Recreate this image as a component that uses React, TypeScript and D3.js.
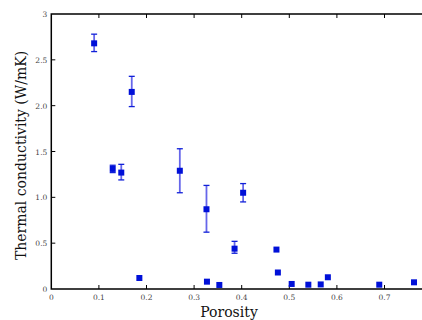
import React, { useRef, useEffect } from 'react';
import * as d3 from 'd3';

// porosity, conductivity, error (0 = no bar)
const porosity = [0.09, 0.169, 0.129, 0.147, 0.27, 0.326, 0.185, 0.327, 0.353, 0.385, 0.403, 0.473, 0.476, 0.505, 0.54, 0.566, 0.581, 0.689, 0.762];
const conductivity = [2.68, 2.15, 1.31, 1.27, 1.29, 0.87, 0.12, 0.08, 0.044, 0.44, 1.05, 0.43, 0.18, 0.055, 0.047, 0.05, 0.128, 0.047, 0.073];
const errLow = [0.09, 0.16, 0.04, 0.08, 0.24, 0.25, 0, 0, 0, 0.05, 0.1, 0, 0, 0, 0, 0, 0, 0, 0];
const errHigh = [0.1, 0.17, 0.04, 0.09, 0.24, 0.26, 0, 0, 0, 0.08, 0.1, 0, 0, 0, 0, 0, 0, 0, 0];

const xTicks = [0, 0.1, 0.2, 0.3, 0.4, 0.5, 0.6, 0.7];
const xTickLabels = ['0', '0.1', '0.2', '0.3', '0.4', '0.5', '0.6', '0.7'];
const yTicks = [0, 0.5, 1, 1.5, 2, 2.5, 3];
const yTickLabels = ['0', '0.5', '1.0', '1.5', '2.0', '2.5', '3'];

const App = () => {
  const svgRef = useRef<SVGSVGElement>(null);

  useEffect(() => {
    const svg = d3.select(svgRef.current);
    svg.selectAll('*').remove();

    const left = 51.3, top = 14, bottom = 289;
    const x = d3.scaleLinear().domain([0, 0.1]).range([left, left + 47.6]);
    const y = d3.scaleLinear().domain([0, 3]).range([bottom, top]);
    const right = 440;
    const font = '"DejaVu Serif", serif';

    // frame
    svg.append('path')
      .attr('d', `M${right},${top}H${left}V${bottom}H${right}`)
      .attr('fill', 'none')
      .attr('stroke', '#000')
      .attr('stroke-width', 1.5);

    const tickLen = 4;
    xTicks.forEach((t) => {
      if (t === 0) return;
      svg.append('line').attr('x1', x(t)).attr('x2', x(t))
        .attr('y1', bottom).attr('y2', bottom - tickLen)
        .attr('stroke', '#000').attr('stroke-width', 1);
      svg.append('line').attr('x1', x(t)).attr('x2', x(t))
        .attr('y1', top).attr('y2', top + tickLen)
        .attr('stroke', '#000').attr('stroke-width', 1);
    });
    xTicks.forEach((t, i) => {
      svg.append('text')
        .attr('x', x(t)).attr('y', bottom + 11)
        .attr('text-anchor', 'middle')
        .style('font-family', font).style('font-size', '7.5px').style('fill', '#444')
        .text(xTickLabels[i]);
    });
    yTicks.forEach((t, i) => {
      if (t !== 0 && t !== 3) {
        svg.append('line').attr('x1', left).attr('x2', left + tickLen)
          .attr('y1', y(t)).attr('y2', y(t))
          .attr('stroke', '#000').attr('stroke-width', 1);
      }
      svg.append('text')
        .attr('x', left - 4).attr('y', y(t) + 3)
        .attr('text-anchor', 'end')
        .style('font-family', font).style('font-size', '7.5px').style('fill', '#444')
        .text(yTickLabels[i]);
    });

    // error bars
    const eb = svg.append('g').attr('stroke', 'rgba(0,0,220,0.6)').attr('stroke-width', 1.8);
    porosity.forEach((p, i) => {
      if (!errLow[i] && !errHigh[i]) return;
      const cx = x(p);
      const y1 = y(conductivity[i] + errHigh[i]);
      const y2 = y(conductivity[i] - errLow[i]);
      eb.append('line').attr('x1', cx).attr('x2', cx).attr('y1', y1).attr('y2', y2);
      eb.append('line').attr('x1', cx - 3).attr('x2', cx + 3).attr('y1', y1).attr('y2', y1).attr('stroke', '#1020d8').attr('stroke-width', 1.3);
      eb.append('line').attr('x1', cx - 3).attr('x2', cx + 3).attr('y1', y2).attr('y2', y2).attr('stroke', '#1020d8').attr('stroke-width', 1.3);
    });

    // markers
    svg.append('g').selectAll('rect')
      .data(porosity)
      .enter().append('rect')
      .attr('x', (d) => x(d) - 3)
      .attr('y', (d, i) => y(conductivity[i]) - 3)
      .attr('width', 6)
      .attr('height', 6)
      .attr('fill', '#0010d8');

    svg.append('text')
      .attr('x', 229).attr('y', 317)
      .attr('text-anchor', 'middle')
      .style('font-family', font).style('font-size', '14px').style('fill', '#111')
      .text('Porosity');

    svg.append('text')
      .attr('transform', `translate(26,${(top + bottom) / 2 + 4}) rotate(-90)`)
      .attr('text-anchor', 'middle')
      .style('font-family', font).style('font-size', '14px').style('fill', '#111')
      .text('Thermal conductivity (W/mK)');
  }, []);

  return <svg ref={svgRef} width={422} height={320} style={{ position: 'absolute', left: 0, top: 0, background: '#fff' }} />;
};

export default App;
